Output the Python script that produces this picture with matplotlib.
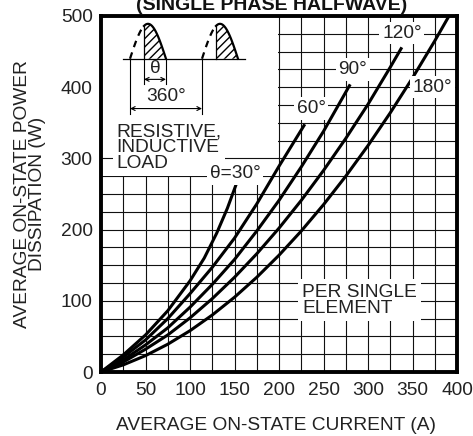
import numpy as np
import matplotlib
matplotlib.use("Agg")
import matplotlib.pyplot as plt
from matplotlib.patches import Rectangle

plt.rcParams['font.family'] = ['Liberation Sans', 'DejaVu Sans']

# average on-state current (A) vs power dissipation (W)
i_30 = [0, 25, 50, 75, 100, 116, 130, 142, 152]
p_30 = [0, 24, 52, 86, 128, 160, 195, 230, 264]

i_60 = [0, 25, 50, 75, 100, 125, 150, 175, 200, 229]
p_60 = [0, 21, 45, 75, 110, 147, 188, 236, 289, 348]

i_90 = [0, 25, 50, 75, 100, 125, 150, 175, 200, 225, 250, 280]
p_90 = [0, 17, 38, 62, 91, 123, 158, 198, 241, 288, 338, 404]

i_120 = [0, 25, 50, 75, 100, 125, 150, 175, 200, 225, 250, 275, 300, 325, 338]
p_120 = [0, 14, 32, 52, 76, 103, 133, 166, 202, 241, 283, 328, 376, 428, 456]

i_180 = [0, 25, 50, 75, 100, 125, 150, 175, 200, 225, 250, 275, 300, 325, 350, 375, 391]
p_180 = [0, 10, 23, 39, 58, 80, 105, 133, 164, 198, 235, 275, 318, 364, 413, 465, 500]

curves = [(i_30, p_30), (i_60, p_60), (i_90, p_90), (i_120, p_120), (i_180, p_180)]

# curve labels: text, x, y
labels = [("\u03b8=30\u00b0", 151, 279), ("60\u00b0", 236, 370), ("90\u00b0", 283, 425),
          ("120\u00b0", 338, 476), ("180\u00b0", 372, 400)]

xticks = [0, 50, 100, 150, 200, 250, 300, 350, 400]
yticks = [0, 100, 200, 300, 400, 500]

fs = 13.8
tc = '#222222'

fig = plt.figure(figsize=(4.73, 4.36), dpi=100)
ax = fig.add_axes([101/473, 64/436, 356/473, 356/436])

ax.set_xlim(0, 400)
ax.set_ylim(0, 500)
ax.set_xticks(xticks)
ax.set_yticks(yticks)
ax.set_xticks(np.arange(0, 401, 25), minor=True)
ax.set_yticks(np.arange(0, 501, 25), minor=True)
ax.grid(which='both', color='#111111', lw=0.8)
ax.tick_params(which='both', length=0, labelsize=fs, colors=tc)
ax.tick_params(axis='x', pad=7)
ax.tick_params(axis='y', pad=6)
for s in ax.spines.values():
    s.set_linewidth(2.8)

# blank area for the waveform sketch
ax.add_patch(Rectangle((0, 275.8), 199.4, 230, fc='white', ec='none', zorder=1.6))
ax.hlines(300, 0, 200, color='#111111', lw=0.8, zorder=1.7)

for i, p in curves:
    ax.plot(i, p, color='black', lw=2.2, solid_capstyle='butt', zorder=3)

ax.text(226, 101, "PER SINGLE\nELEMENT", ha='left', va='center', fontsize=fs,
        color=tc, linespacing=0.92, bbox=dict(fc='white', ec='none', pad=3), zorder=4)
ax.text(17, 315, "RESISTIVE,\nINDUCTIVE\nLOAD", ha='left', va='center', fontsize=fs,
        color=tc, linespacing=0.92, bbox=dict(fc='white', ec='none', pad=2.5), zorder=4)

box = dict(fc='white', ec='none', pad=2)
for t, x, y in labels:
    ax.text(x, y, t, ha='center', va='center', fontsize=fs, color=tc,
            bbox=box, zorder=6)

# waveform sketch
base = 440
h = 49
for x0 in [32.6, 113.5]:
    x1 = x0 + 40.4
    xc = x0 + 15.7
    xd = np.linspace(x0, xc, 20)
    xs = np.linspace(xc, x1, 40)
    yd = base + h * np.sin(np.pi * (xd - x0) / (x1 - x0))
    ys = base + h * np.sin(np.pi * (xs - x0) / (x1 - x0))
    ax.plot(xd, yd, color='black', lw=1.6, dashes=(3, 2.5), zorder=5)
    ax.plot(xs, ys, color='black', lw=1.6, zorder=5)
    ax.plot([xc, xc], [base, ys[0]], color='black', lw=0.9, zorder=5)
    ax.fill_between(xs, base, ys, facecolor='none', edgecolor='black', hatch='////',
                    lw=0, zorder=4.5)
ax.plot([24.7, 161.8], [base, base], color='black', lw=0.9, zorder=5)

# theta marker
ax.plot([48.3, 48.3], [base, 405], color='black', lw=0.8, zorder=5)
ax.plot([73, 73], [base, 405], color='black', lw=0.8, zorder=5)
ax.annotate('', xy=(73, 411), xytext=(48.3, 411),
            arrowprops=dict(arrowstyle='<->', lw=0.8, shrinkA=0, shrinkB=0,
                            mutation_scale=7), zorder=5)
ax.text(60.7, 426, "\u03b8", ha='center', va='center', fontsize=fs, color=tc, zorder=5)

# 360 marker
ax.plot([32.6, 32.6], [base, 363], color='black', lw=0.8, zorder=5)
ax.plot([113.5, 113.5], [base, 363], color='black', lw=0.8, zorder=5)
ax.annotate('', xy=(113.5, 370), xytext=(32.6, 370),
            arrowprops=dict(arrowstyle='<->', lw=0.8, shrinkA=0, shrinkB=0,
                            mutation_scale=7), zorder=5)
ax.text(73, 387, "360\u00b0", ha='center', va='center', fontsize=fs, color=tc, zorder=5)

fig.text(272/473, 1 - 10/436, "(SINGLE PHASE HALFWAVE)", ha='center', va='baseline',
         fontsize=14, fontweight='bold', color='#111111')
fig.text(30/473, 1 - 194/436, "AVERAGE ON-STATE POWER\nDISSIPATION (W)", rotation=90,
         ha='center', va='center', fontsize=fs, color=tc, linespacing=0.92)
fig.text(276/473, 1 - 425/436, "AVERAGE ON-STATE CURRENT (A)", ha='center', va='center',
         fontsize=fs, color=tc)

fig.savefig("out.png", dpi=100)
